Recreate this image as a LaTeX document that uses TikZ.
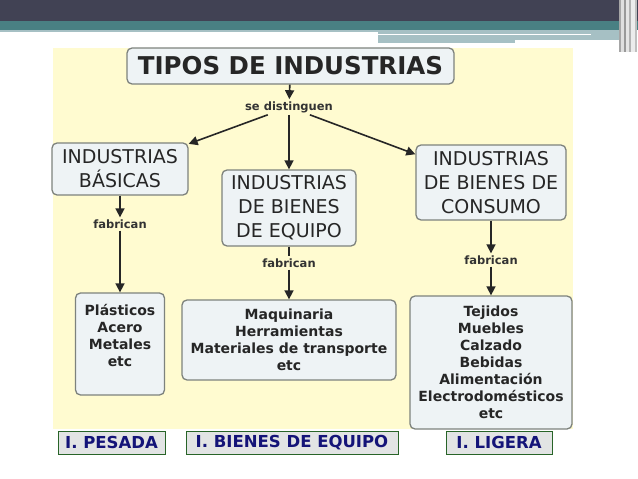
\documentclass[tikz,border=0pt]{standalone}
\usepackage{fontspec}
\setmainfont{DejaVu Sans}
\usetikzlibrary{arrows.meta,positioning}
\definecolor{mypaper}{RGB}{255,251,208}
\definecolor{myboxfill}{RGB}{238,243,245}
\definecolor{myboxline}{RGB}{125,130,125}
\definecolor{mydark}{RGB}{65,66,84}
\definecolor{myteal}{RGB}{73,128,131}
\definecolor{mylight}{RGB}{166,192,196}
\definecolor{mytagfill}{RGB}{226,228,228}
\definecolor{mytagline}{RGB}{40,100,40}
\definecolor{mynavy}{RGB}{20,20,120}
\tikzstyle{concept}=[draw=myboxline,fill=myboxfill,rounded corners=5pt,line width=1.3pt,align=center,inner sep=0pt,text=black!85,font=\fontsize{19}{24}\selectfont]
\tikzstyle{linkword}=[font=\bfseries\fontsize{11.5}{13}\selectfont,text=black!80,inner sep=2pt]
\tikzstyle{sample}=[concept,font=\bfseries\fontsize{14}{17}\selectfont]
\tikzstyle{tag}=[draw=mytagline,fill=mytagfill,line width=1pt,inner sep=0pt,minimum height=23pt,text=mynavy,font=\bfseries\fontsize{16.5}{18}\selectfont]
\tikzstyle{link}=[line width=1.6pt,black!85,-{Triangle[width=9pt,length=9pt]}]

\begin{document}
\begin{tikzpicture}[x=1pt,y=-1pt]
\useasboundingbox (0,0) rectangle (638,479);
% slide banner
\fill[mydark] (0,0) rectangle (638,21);
\fill[myteal] (0,21) rectangle (638,30);
\fill[mylight] (0,30) rectangle (378,32);
\fill[mylight] (378,30) rectangle (626,43);
\fill[white] (378,33.5) rectangle (591,35);
\fill[white] (515,40) rectangle (626,43);
\fill[gray!70] (619,0) rectangle (621,52);
\fill[gray!25] (621,0) rectangle (624,52);
\fill[gray!80] (624,0) rectangle (626,52);
\fill[gray!20] (626,0) rectangle (629,52);
\fill[gray!60] (629,0) rectangle (631,52);
\fill[gray!15] (631,0) rectangle (635,52);
\fill[gray!50] (635,0) rectangle (637,52);
% map
\fill[mypaper] (53,48) rectangle (573,429);
\draw (290.5,66) node [concept,font=\bfseries\fontsize{24.5}{28}\selectfont,minimum width=327pt,minimum height=36pt] (tipos) {TIPOS DE INDUSTRIAS};
\draw (289,107) node [linkword] (sedist) {se distinguen};
\draw (120,169) node [concept,minimum width=136pt,minimum height=52pt] (basic) {INDUSTRIAS\\BÁSICAS};
\draw (289,208) node [concept,minimum width=134pt,minimum height=76pt] (equip) {INDUSTRIAS\\DE BIENES\\DE EQUIPO};
\draw (491,182.5) node [concept,minimum width=150pt,minimum height=75pt] (consumo) {INDUSTRIAS\\DE BIENES DE\\CONSUMO};
\draw (120,224) node [linkword] (fab1) {fabrican};
\draw (289,263) node [linkword] (fab2) {fabrican};
\draw (491,260) node [linkword] (fab3) {fabrican};
\draw (120,344) node [sample,minimum width=89pt,minimum height=102pt] (plast) {Plásticos\\Acero\\Metales\\etc\\\mbox{}};
\draw (289,340) node [sample,minimum width=214pt,minimum height=80pt] (maq) {Maquinaria\\Herramientas\\Materiales de transporte\\etc};
\draw (491,362.5) node [sample,minimum width=162pt,minimum height=133pt] (tejidos) {Tejidos\\Muebles\\Calzado\\Bebidas\\Alimentación\\Electrodomésticos\\etc};
\draw[link] (tipos) -- (sedist);
\draw[link] (sedist) -- (basic);
\draw[link] (sedist) -- (equip);
\draw[link] (sedist) -- (consumo);
\draw[link] (basic) -- (fab1);
\draw[link] (fab1) -- (plast);
\draw[line width=1.6pt,black!85] (equip) -- (fab2);
\draw[link] (fab2) -- (maq);
\draw[link] (consumo) -- (fab3);
\draw[link] (fab3) -- (tejidos);
% types
\draw (111.5,442.5) node [tag,minimum width=107pt] (pesada) {I. PESADA};
\draw (292,442.5) node [tag,minimum width=212pt] (bienes) {I. BIENES DE EQUIPO};
\draw (499,442.5) node [tag,minimum width=106pt] (ligera) {I. LIGERA};
\end{tikzpicture}
\end{document}
